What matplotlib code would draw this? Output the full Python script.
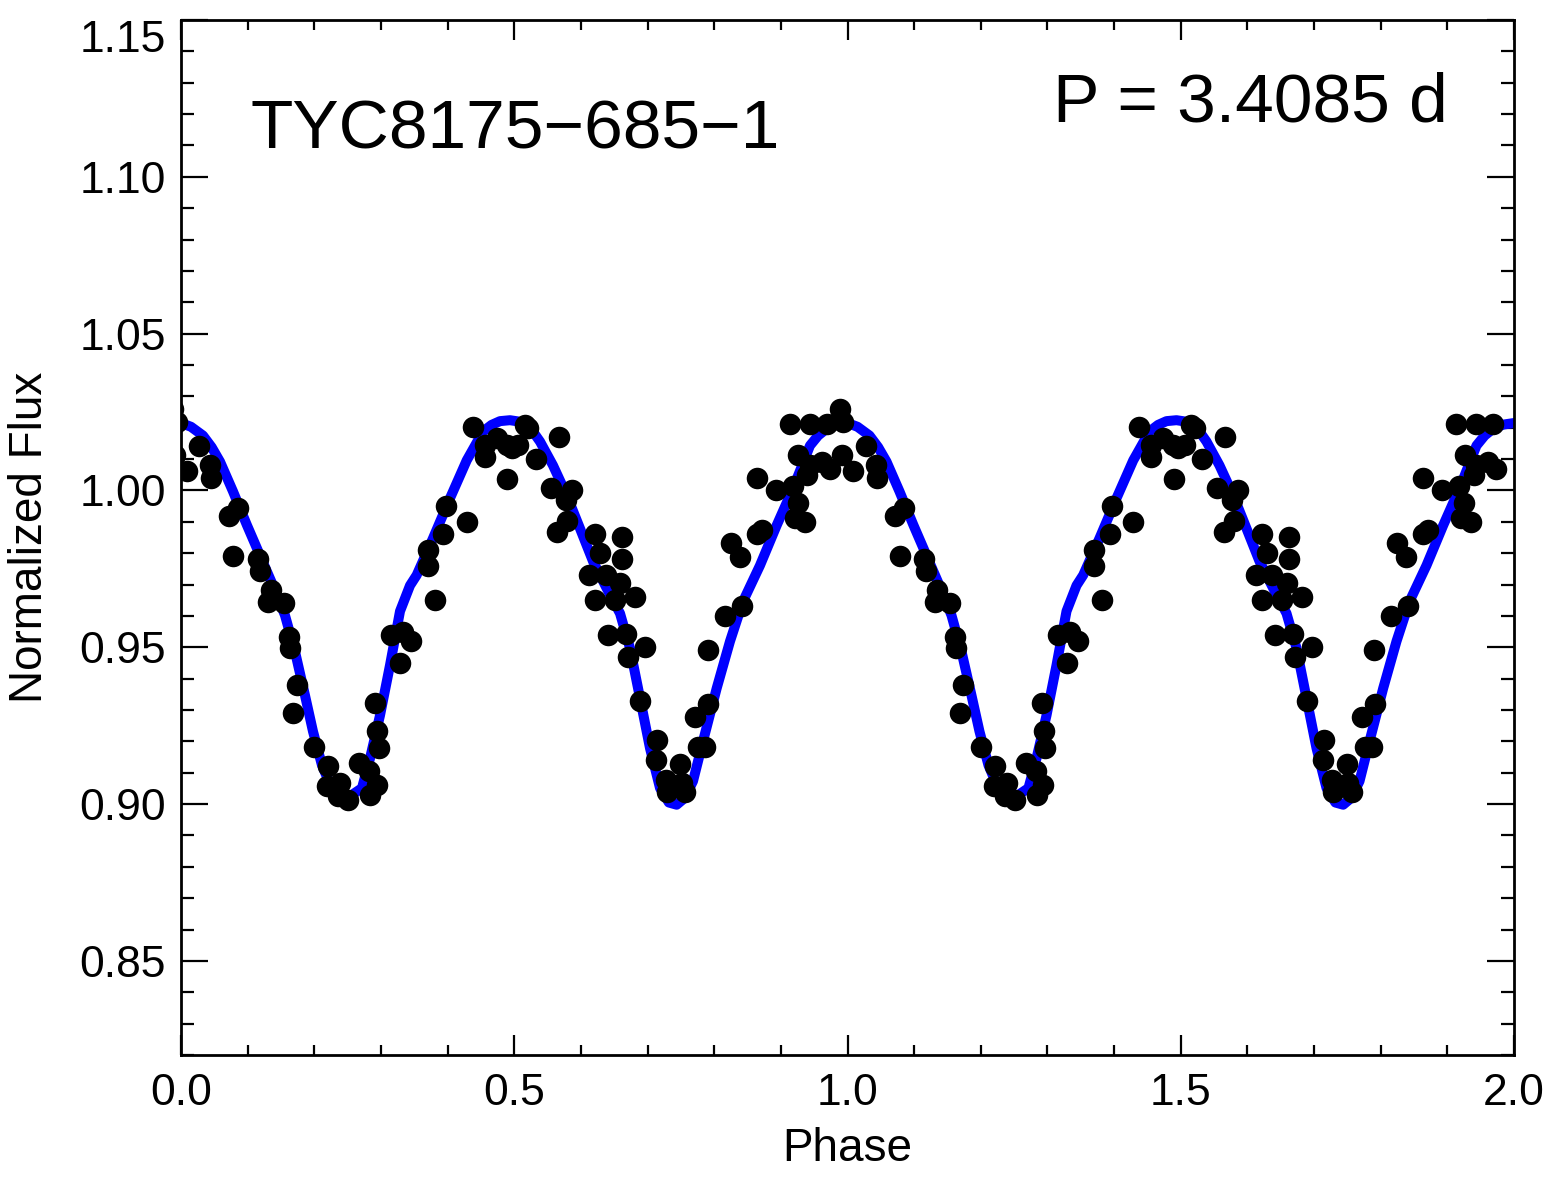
import matplotlib

matplotlib.use("Agg")
import matplotlib.pyplot as plt
import numpy as np
from matplotlib.ticker import FixedLocator, FormatStrFormatter, MultipleLocator

plt.rcParams["font.family"] = ["Liberation Sans", "DejaVu Sans"]

# folded photometry, one cycle (drawn again at phase + 1)
obs_phase = [
    -0.0113, -0.0063, -0.0087, 0.0275, 0.0086, 0.0435, 0.0446, 0.0720, 0.0851,
    0.0785, 0.1151, 0.1185, 0.1350, 0.1310, 0.1541, 0.1620, 0.1635, 0.1740,
    0.1685, 0.2000, 0.2206, 0.2195, 0.2386, 0.2360, 0.2510, 0.2675, 0.2825,
    0.2936, 0.2836, 0.2911, 0.2945, 0.2966, 0.3155, 0.3335, 0.3451, 0.3286,
    0.3811, 0.3701, 0.3701, 0.3935, 0.3972, 0.4287, 0.4377, 0.4561, 0.4561,
    0.4737, 0.4887, 0.4962, 0.5061, 0.4896, 0.5161, 0.5211, 0.5322, 0.5667,
    0.5547, 0.5862, 0.5772, 0.5796, 0.5646, 0.6212, 0.6287, 0.6621, 0.6621,
    0.6126, 0.6372, 0.6587, 0.6212, 0.6512, 0.6812, 0.6411, 0.6677, 0.6711,
    0.6887, 0.6962, 0.7146, 0.7127, 0.7487, 0.7272, 0.7287, 0.7562, 0.7512,
    0.7911, 0.7712, 0.7761, 0.7862, 0.7902, 0.8162, 0.8413, 0.8248, 0.8387,
    0.8638, 0.8713, 0.8638, 0.8927, 0.9178, 0.9253, 0.9212, 0.9362, 0.9262,
    0.9397, 0.9613, 0.9737, 0.9137, 0.9437, 0.9688, 0.9437,
]
obs_flux = [
    1.0261, 1.0217, 1.0112, 1.0141, 1.0061, 1.0081, 1.0041, 0.9920, 0.9943,
    0.9791, 0.9781, 0.9742, 0.9682, 0.9643, 0.9640, 0.9533, 0.9497, 0.9380,
    0.9292, 0.9181, 0.9122, 0.9058, 0.9067, 0.9025, 0.9012, 0.9131, 0.9104,
    0.9061, 0.9030, 0.9322, 0.9232, 0.9178, 0.9539, 0.9550, 0.9519, 0.9451,
    0.9651, 0.9810, 0.9759, 0.9860, 0.9950, 0.9900, 1.0201, 1.0144, 1.0107,
    1.0166, 1.0144, 1.0134, 1.0144, 1.0038, 1.0210, 1.0200, 1.0099, 1.0171,
    1.0009, 1.0001, 0.9969, 0.9902, 0.9868, 0.9861, 0.9799, 0.9853, 0.9780,
    0.9730, 0.9730, 0.9704, 0.9651, 0.9651, 0.9661, 0.9539, 0.9541, 0.9470,
    0.9330, 0.9500, 0.9203, 0.9139, 0.9128, 0.9077, 0.9040, 0.9040, 0.9067,
    0.9319, 0.9279, 0.9182, 0.9182, 0.9491, 0.9600, 0.9630, 0.9831, 0.9789,
    0.9861, 0.9874, 1.0040, 1.0001, 1.0015, 0.9959, 0.9911, 0.9900, 1.0112,
    1.0049, 1.0091, 1.0070, 1.0211, 1.0211, 1.0211, 1.0081,
]

# model light curve, one cycle
model_phase = [
    0.000, 0.015, 0.033, 0.046, 0.0585, 0.078, 0.099, 0.1185, 0.138, 0.156,
    0.171, 0.186, 0.198, 0.2115, 0.228, 0.240, 0.250, 0.2715, 0.2836, 0.2986,
    0.3136, 0.3286, 0.3436, 0.3536, 0.378, 0.4036, 0.4287, 0.4531, 0.466,
    0.4786, 0.4936, 0.506, 0.5187, 0.529, 0.5386, 0.5581, 0.5787, 0.5986,
    0.6182, 0.6387, 0.6587, 0.6737, 0.6887, 0.7037, 0.7187, 0.7320, 0.7437,
    0.7560, 0.7682, 0.7832, 0.8037, 0.8237, 0.8432, 0.8687, 0.8938, 0.9182,
    0.9437, 0.956, 0.9688, 0.984, 1.000,
]
model_flux = [
    1.0215, 1.0203, 1.0175, 1.0138, 1.0092, 0.9997, 0.9889, 0.9793, 0.9697,
    0.9602, 0.9487, 0.9347, 0.9232, 0.9124, 0.9041, 0.9025, 0.9020, 0.9051,
    0.9146, 0.9283, 0.9443, 0.9615, 0.9697, 0.9730, 0.9847, 0.9975, 1.0096,
    1.0188, 1.0209, 1.0221, 1.0224, 1.0220, 1.0208, 1.0185, 1.0156, 1.0080,
    0.9985, 0.9879, 0.9774, 0.9688, 0.9608, 0.9497, 0.9338, 0.9178, 0.9051,
    0.9005, 0.8998, 0.9020, 0.9073, 0.9200, 0.9369, 0.9519, 0.9646, 0.9761,
    0.9889, 1.0006, 1.0143, 1.0175, 1.0197, 1.0210, 1.0215,
]

star_name = "TYC8175\u2212685\u22121"
period_text = "P = 3.4085 d"


def main() -> int:
    ph = np.asarray(obs_phase)
    fl = np.asarray(obs_flux)
    mp = np.asarray(model_phase)
    mf = np.asarray(model_flux)
    mp2 = np.concatenate([mp, mp[1:] + 1.0])
    mf2 = np.concatenate([mf, mf[1:]])

    fig = plt.figure(figsize=(15.66, 11.88), dpi=100)
    ax = fig.add_axes([181 / 1566, 1 - 1055 / 1188, 1333 / 1566, 1035 / 1188])

    ax.plot(mp2, mf2, color="#0000ff", linewidth=7.2, solid_joinstyle="round", zorder=2)
    for shift in (0.0, 1.0):
        ax.plot(ph + shift, fl, "o", color="black", markersize=15.5,
                markeredgewidth=0, zorder=3)

    ax.set_xlim(0.0, 2.0)
    ax.set_ylim(0.82, 1.15)
    ax.xaxis.set_major_locator(FixedLocator([0.0, 0.5, 1.0, 1.5, 2.0]))
    ax.xaxis.set_minor_locator(MultipleLocator(0.1))
    ax.yaxis.set_major_locator(FixedLocator([0.85, 0.90, 0.95, 1.00, 1.05, 1.10, 1.15]))
    ax.yaxis.set_minor_locator(MultipleLocator(0.01))
    ax.xaxis.set_major_formatter(FormatStrFormatter("%.1f"))
    ax.yaxis.set_major_formatter(FormatStrFormatter("%.2f"))

    ax.tick_params(axis="both", which="both", direction="in", top=True, right=True,
                   width=1.6, colors="black", labelsize=32)
    ax.tick_params(axis="x", which="major", length=14.4, pad=13)
    ax.tick_params(axis="x", which="minor", length=7.2)
    ax.tick_params(axis="y", which="major", length=19.4, pad=11)
    ax.tick_params(axis="y", which="minor", length=9.4)
    for sp in ax.spines.values():
        sp.set_linewidth(2.0)

    ax.set_xlabel("Phase", fontsize=33)
    ax.set_ylabel("Normalized Flux", fontsize=33)
    ax.xaxis.set_label_coords(0.5, -0.0696)
    ax.yaxis.set_label_coords(-0.097, 0.5)

    ax.text(0.0518, 0.8763, star_name, transform=ax.transAxes, fontsize=50,
            ha="left", va="baseline")
    ax.text(0.950, 0.9024, period_text, transform=ax.transAxes, fontsize=50,
            ha="right", va="baseline")

    fig.canvas.draw()
    ax.get_yticklabels()[-1].set_verticalalignment("top")

    fig.savefig("out.png", dpi=100)
    plt.close(fig)
    return 0


if __name__ == "__main__":
    raise SystemExit(main())
